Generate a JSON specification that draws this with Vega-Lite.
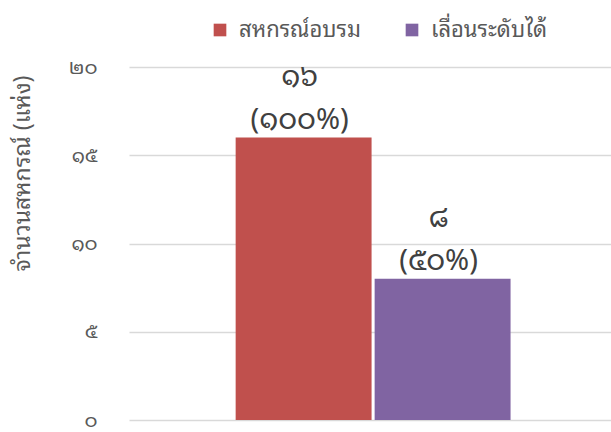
{
  "$schema": "https://vega.github.io/schema/vega-lite/v6.json",
  "width": 482,
  "height": 353,
  "autosize": {"type": "none"},
  "padding": {"left": 129, "top": 67, "right": 0, "bottom": 12},
  "config": {"view": {"stroke": null}, "font": "Noto Sans Thai Looped, Noto Sans Thai, Noto Sans"},
  "data": {"values": [
    {"series": "สหกรณ์อบรม", "value": 16, "count": "๑๖", "pct": "(๑๐๐%)"},
    {"series": "เลื่อนระดับได้", "value": 8, "count": "๘", "pct": "(๕๐%)"}
  ]},
  "encoding": {
    "x": {"field": "series", "type": "nominal", "sort": null,
      "scale": {"paddingInner": 0.022, "paddingOuter": 0.745, "align": 0.515},
      "axis": null},
    "y": {"field": "value", "type": "quantitative",
      "scale": {"domain": [0, 20]},
      "axis": {"values": [0, 5, 10, 15, 20], "domain": false, "ticks": false,
        "gridColor": "#D9D9D9", "gridWidth": 1.5,
        "labelExpr": "datum.value==0?'๐':datum.value==5?'๕':datum.value==10?'๑๐':datum.value==15?'๑๕':'๒๐'",
        "labelFontSize": 20, "labelFontWeight": "normal", "labelColor": "#595959", "labelPadding": 32,
        "title": "จำนวนสหกรณ์ (แห่ง)", "titleFontSize": 23, "titleFontWeight": "normal",
        "titleColor": "#595959", "titleX": -107, "titleY": 106, "titleAngle": -90,
        "titleAlign": "center", "titleBaseline": "middle"}}
  },
  "layer": [
    {
      "mark": {"type": "bar"},
      "encoding": {
        "color": {"field": "series", "type": "nominal", "sort": null,
          "scale": {"range": ["#C0504D", "#8064A2"]},
          "legend": {"orient": "none", "legendX": 80, "legendY": -48, "direction": "horizontal",
            "title": null, "symbolType": "square", "symbolSize": 160, "labelFontSize": 22,
            "labelColor": "#595959", "columnPadding": 40, "labelOffset": 8}}
      }
    },
    {
      "mark": {"type": "text", "baseline": "bottom", "dy": -3, "dx": -4, "fontSize": 29,
        "fontWeight": "normal", "color": "#404040"},
      "encoding": {"text": {"field": "pct"}}
    },
    {
      "mark": {"type": "text", "baseline": "bottom", "dy": -46, "dx": -4, "fontSize": 29,
        "fontWeight": "normal", "color": "#404040"},
      "encoding": {"text": {"field": "count"}}
    }
  ]
}
